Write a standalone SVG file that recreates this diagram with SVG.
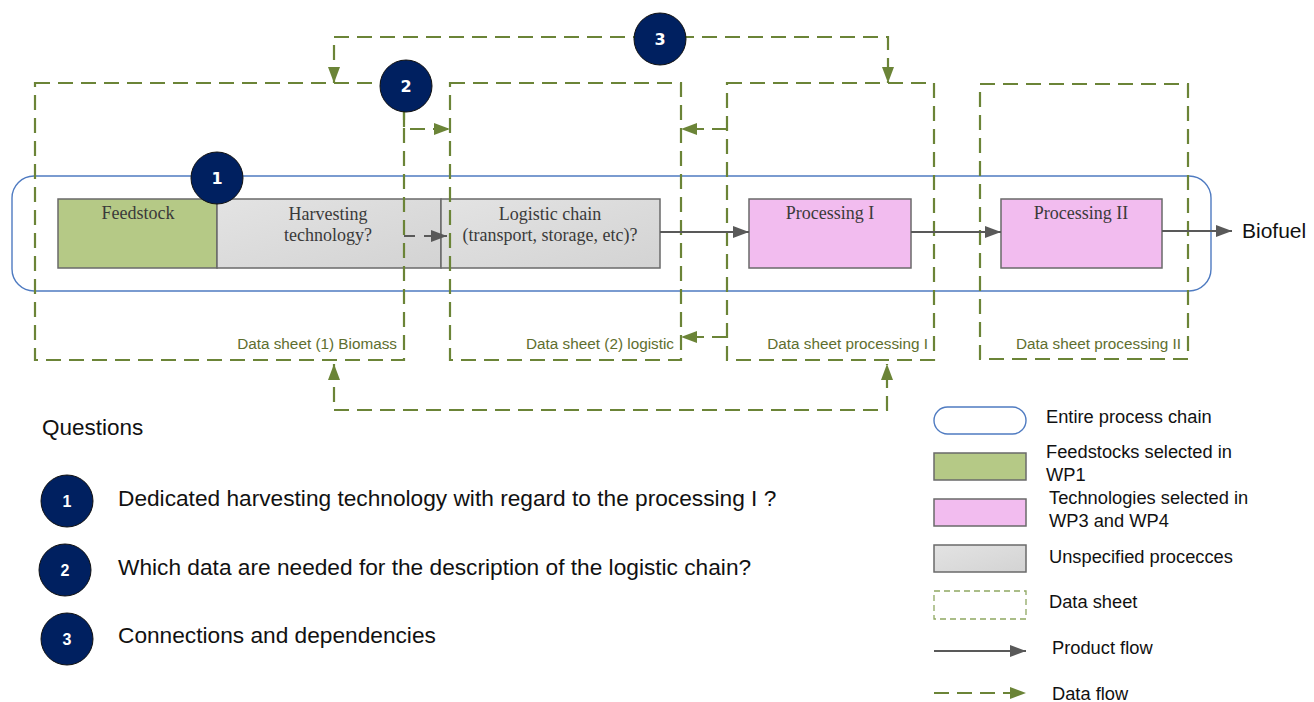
<svg xmlns="http://www.w3.org/2000/svg" width="1314" height="702" viewBox="0 0 1314 702">
  <style>
    .chain { fill: none; stroke: #4f7bc1; stroke-width: 1.4; }
    .box { stroke: #6a6a6a; stroke-width: 1.5; }
    .feed { fill: #b5c986; }
    .tech { fill: #f2bcef; }
    .gray { fill: url(#grayGrad); }
    .boxtxt { font-family: "Liberation Serif", "DejaVu Serif", serif; font-size: 18px; fill: #3a3a3a; text-anchor: middle; }
    .ds { fill: none; stroke: #6b8437; stroke-width: 2.2; stroke-dasharray: 15 8; }
    .dsflow { fill: none; stroke: #6b8437; stroke-width: 2.2; stroke-dasharray: 15 8; marker-end: url(#ga); }
    .dstxt { font-family: "Liberation Sans", Arial, sans-serif; font-size: 15.3px; fill: #5e6e2e; text-anchor: end; }
    .prod { fill: none; stroke: #595959; stroke-width: 2; marker-end: url(#pa); }
    .circ { fill: #002060; stroke: #111; stroke-width: 1; }
    .num { font-family: "DejaVu Sans", Verdana, sans-serif; font-weight: bold; font-size: 16px; fill: #fff; text-anchor: middle; }
    .qnum { font-family: "Liberation Sans", Arial, sans-serif; font-weight: bold; font-size: 16px; fill: #fff; text-anchor: middle; }
    .q { font-family: "Liberation Sans", Arial, sans-serif; font-size: 22.7px; fill: #111; }
    .leg { font-family: "Liberation Sans", Arial, sans-serif; font-size: 18.3px; fill: #111; }
  </style>
  <defs>
    <linearGradient id="grayGrad" x1="0" y1="0" x2="1" y2="1">
      <stop offset="0" stop-color="#e3e3e3"/>
      <stop offset="1" stop-color="#d3d3d3"/>
    </linearGradient>
    <marker id="pa" markerUnits="userSpaceOnUse" markerWidth="18" markerHeight="14" refX="16" refY="6" orient="auto">
      <path d="M0,0 L16,6 L0,12 z" fill="#595959"/>
    </marker>
    <marker id="ga" markerUnits="userSpaceOnUse" markerWidth="18" markerHeight="14" refX="16" refY="6" orient="auto-start-reverse">
      <path d="M0,0 L16,6 L0,12 z" fill="#6b8437"/>
    </marker>
  </defs>

  <!-- entire process chain -->
  <g id="process-chain">
    <rect class="chain" x="12" y="176" width="1199" height="115" rx="22" ry="22"/>
  </g>

  <g id="feedstock">
    <rect class="box feed" x="58" y="199" width="159" height="69"/>
    <text class="boxtxt" x="138" y="219">Feedstock</text>
  </g>
  <g id="harvesting">
    <rect class="box gray" x="217" y="199" width="224" height="69"/>
    <text class="boxtxt" x="328" y="220">Harvesting</text>
    <text class="boxtxt" x="328" y="241">technology?</text>
  </g>
  <g id="logistic">
    <rect class="box gray" x="441" y="199" width="219" height="69"/>
    <text class="boxtxt" x="550" y="220">Logistic chain</text>
    <text class="boxtxt" x="550" y="241">(transport, storage, etc)?</text>
  </g>
  <g id="processing1">
    <rect class="box tech" x="749" y="199" width="162" height="69"/>
    <text class="boxtxt" x="830" y="219">Processing I</text>
  </g>
  <g id="processing2">
    <rect class="box tech" x="1001" y="199" width="161" height="69"/>
    <text class="boxtxt" x="1081" y="219">Processing II</text>
  </g>
  <g id="biofuel">
    <text x="1242" y="238" font-family="Liberation Sans, Arial, sans-serif" font-size="21" fill="#111">Biofuel</text>
  </g>

  <!-- data sheets -->
  <g id="ds1">
    <rect class="ds" x="35" y="83" width="369" height="277"/>
    <text class="dstxt" x="397" y="349">Data sheet (1) Biomass</text>
  </g>
  <g id="ds2">
    <rect class="ds" x="450" y="83" width="231" height="277"/>
    <text class="dstxt" x="674" y="349">Data sheet (2) logistic</text>
  </g>
  <g id="ds3">
    <rect class="ds" x="727" y="83" width="207" height="277"/>
    <text class="dstxt" x="928" y="349">Data sheet processing I</text>
  </g>
  <g id="ds4">
    <rect class="ds" x="980" y="84" width="208" height="275"/>
    <text class="dstxt" x="1181" y="349">Data sheet processing II</text>
  </g>

  <!-- connectors -->
  <g id="connectors">
    <path class="prod" d="M660,232 H749"/>
    <path class="prod" d="M911,232 H1001"/>
    <path class="prod" d="M1162,231 H1232"/>
    <path class="prod" d="M404,236 H447" stroke-dasharray="11 9"/>
    <path class="dsflow" d="M334,83 V37 H888 V83" marker-start="url(#ga)"/>
    <path class="dsflow" d="M334,364 V410 H887 V364" marker-start="url(#ga)"/>
    <path class="dsflow" d="M404,112 V129 H450"/>
    <path class="dsflow" d="M727,129 H681"/>
    <path class="dsflow" d="M727,337 H681"/>
  </g>

  <!-- numbered markers -->
  <g id="marker1">
    <circle class="circ" cx="217" cy="178" r="26"/>
    <text class="num" x="217" y="184">1</text>
  </g>
  <g id="marker2">
    <circle class="circ" cx="406" cy="86" r="26"/>
    <text class="num" x="406" y="92">2</text>
  </g>
  <g id="marker3">
    <circle class="circ" cx="660" cy="39" r="26"/>
    <text class="num" x="660" y="45">3</text>
  </g>

  <!-- questions -->
  <g id="questions">
    <text x="42" y="435" font-family="Liberation Sans, Arial, sans-serif" font-size="22.5" fill="#111">Questions</text>
    <circle class="circ" cx="67" cy="501" r="26"/>
    <text class="qnum" x="67" y="507">1</text>
    <text class="q" x="118" y="506">Dedicated harvesting technology with regard to the processing I ?</text>
    <circle class="circ" cx="65" cy="570" r="26"/>
    <text class="qnum" x="65" y="576">2</text>
    <text class="q" x="118" y="575">Which data are needed for the description of the logistic chain?</text>
    <circle class="circ" cx="67" cy="639" r="26"/>
    <text class="qnum" x="67" y="645">3</text>
    <text class="q" x="118" y="643">Connections and dependencies</text>
  </g>

  <!-- legend -->
  <g id="legend">
    <rect x="934" y="407" width="92" height="27" rx="13.5" fill="#fff" stroke="#4f7bc1" stroke-width="1.4"/>
    <text class="leg" x="1046" y="423">Entire process chain</text>
    <rect class="box feed" x="934" y="453" width="92" height="27"/>
    <text class="leg" x="1046" y="458">Feedstocks selected in</text>
    <text class="leg" x="1046" y="481">WP1</text>
    <rect class="box tech" x="934" y="499" width="92" height="27"/>
    <text class="leg" x="1049" y="504">Technologies selected in</text>
    <text class="leg" x="1049" y="527">WP3 and WP4</text>
    <rect class="box gray" x="934" y="545" width="92" height="27"/>
    <text class="leg" x="1049" y="563">Unspecified procecces</text>
    <rect x="934" y="591" width="92" height="28" fill="none" stroke="#8fa862" stroke-width="1.3" stroke-dasharray="6 4"/>
    <text class="leg" x="1049" y="608">Data sheet</text>
    <path class="prod" d="M934,651 H1026"/>
    <text class="leg" x="1052" y="654">Product flow</text>
    <path class="dsflow" d="M934,693 H1026" stroke-dasharray="12 9"/>
    <text class="leg" x="1052" y="700">Data flow</text>
  </g>
</svg>
